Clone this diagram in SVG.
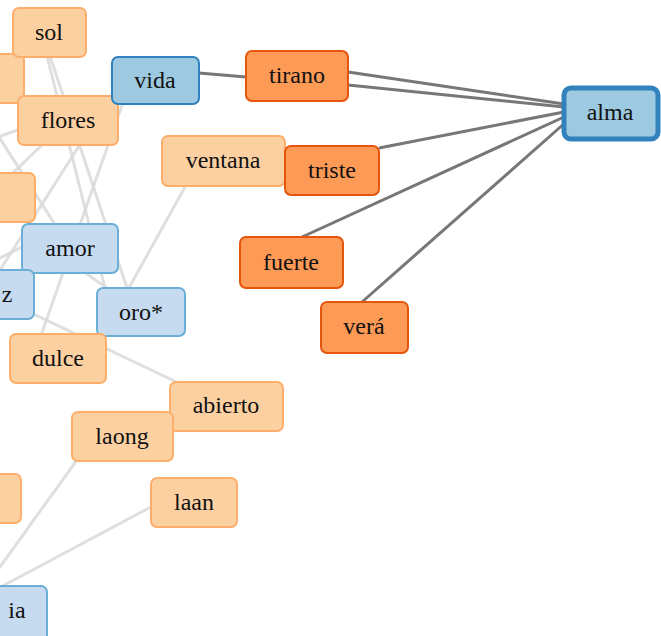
<svg xmlns="http://www.w3.org/2000/svg" width="661" height="636" viewBox="0 0 661 636">
<style>
.lt{fill:#fdd0a2;stroke:#fdae6b;stroke-width:2}
.dk{fill:#fd9a55;stroke:#e6550d;stroke-width:2}
.bm{fill:#9ecae1;stroke:#3182bd;stroke-width:2}
.bl{fill:#c6dbef;stroke:#6baed6;stroke-width:2}
.ba{fill:#9ecae1;stroke:#3182bd;stroke-width:5}
.le line{stroke:#d9d9d9;stroke-width:3;stroke-opacity:0.85}
.de line{stroke:#777;stroke-width:3}
.t{font-family:"Liberation Serif","DejaVu Serif","Times New Roman",serif;font-size:24px;fill:#111;text-anchor:middle}
</style>
<rect width="661" height="636" fill="#fff"/>
<g id="connectors">
<g class="le">
<line x1="150" y1="82" x2="-10" y2="140"/>
<line x1="42" y1="32" x2="135" y2="312"/>
<line x1="41" y1="32" x2="111" y2="312"/>
<line x1="131" y1="80" x2="33" y2="358"/>
<line x1="121" y1="80" x2="-5" y2="278"/>
<line x1="68" y1="120" x2="-10" y2="195"/>
<line x1="-10" y1="123" x2="70" y2="248"/>
<line x1="200" y1="160" x2="125" y2="295"/>
<line x1="0" y1="298" x2="227" y2="406"/>
<line x1="-20" y1="268" x2="60" y2="228"/>
<line x1="60" y1="255" x2="141" y2="312"/>
<line x1="95" y1="435" x2="-21" y2="596"/>
<line x1="194" y1="484" x2="-20" y2="598"/>
</g>
<g class="de">
<line x1="199" y1="73" x2="246" y2="77"/>
<line x1="348" y1="72" x2="564" y2="104"/>
<line x1="348" y1="85" x2="564" y2="107"/>
<line x1="379" y1="148" x2="564" y2="112" stroke-width="4"/>
<line x1="302" y1="237" x2="564" y2="117" stroke-width="3.5"/>
<line x1="362" y1="302" x2="566" y2="122"/>
</g>
</g>
<g id="n-left1"><rect class="lt" x="-40" y="54" width="64" height="49" rx="6"/></g>
<g id="n-sol"><rect class="lt" x="13" y="8" width="73" height="49" rx="6"/><text class="t" x="49" y="40">sol</text></g>
<g id="n-flores"><rect class="lt" x="18" y="96" width="100" height="49" rx="6"/><text class="t" x="68" y="128">flores</text></g>
<g id="n-vida"><rect class="bm" x="112" y="57" width="87" height="47" rx="6"/><text class="t" x="155" y="88">vida</text></g>
<g id="n-tirano"><rect class="dk" x="246" y="51" width="102" height="50" rx="6"/><text class="t" x="297" y="83">tirano</text></g>
<g id="n-ventana"><rect class="lt" x="162" y="136" width="123" height="50" rx="6"/><text class="t" x="223" y="168">ventana</text></g>
<g id="n-triste"><rect class="dk" x="285" y="146" width="94" height="49" rx="6"/><text class="t" x="332" y="178">triste</text></g>
<g id="n-fuerte"><rect class="dk" x="240" y="237" width="103" height="51" rx="6"/><text class="t" x="291" y="270">fuerte</text></g>
<g id="n-vera"><rect class="dk" x="321" y="302" width="87" height="51" rx="6"/><text class="t" x="364" y="334">verá</text></g>
<g id="n-alma"><rect class="ba" x="564" y="88" width="94" height="51" rx="7"/><text class="t" x="610" y="120">alma</text></g>
<g id="n-left2"><rect class="lt" x="-40" y="173" width="75" height="49" rx="6"/></g>
<g id="n-amor"><rect class="bl" x="22" y="224" width="96" height="49" rx="6"/><text class="t" x="70" y="256">amor</text></g>
<g id="n-z"><rect class="bl" x="-40" y="270" width="74" height="49" rx="6"/><text class="t" x="7" y="302">z</text></g>
<g id="n-oro"><rect class="bl" x="97" y="288" width="88" height="48" rx="6"/><text class="t" x="141" y="320">oro*</text></g>
<g id="n-dulce"><rect class="lt" x="10" y="334" width="96" height="49" rx="6"/><text class="t" x="58" y="366">dulce</text></g>
<g id="n-abierto"><rect class="lt" x="170" y="382" width="113" height="49" rx="6"/><text class="t" x="226" y="413">abierto</text></g>
<g id="n-laong"><rect class="lt" x="72" y="412" width="101" height="49" rx="6"/><text class="t" x="122" y="444">laong</text></g>
<g id="n-left4"><rect class="lt" x="-40" y="474" width="61" height="49" rx="6"/></g>
<g id="n-laan"><rect class="lt" x="151" y="478" width="86" height="49" rx="6"/><text class="t" x="194" y="510">laan</text></g>
<g id="n-ia"><rect class="bl" x="-40" y="586" width="87" height="70" rx="6"/><text class="t" x="17" y="618">ia</text></g>
</svg>
